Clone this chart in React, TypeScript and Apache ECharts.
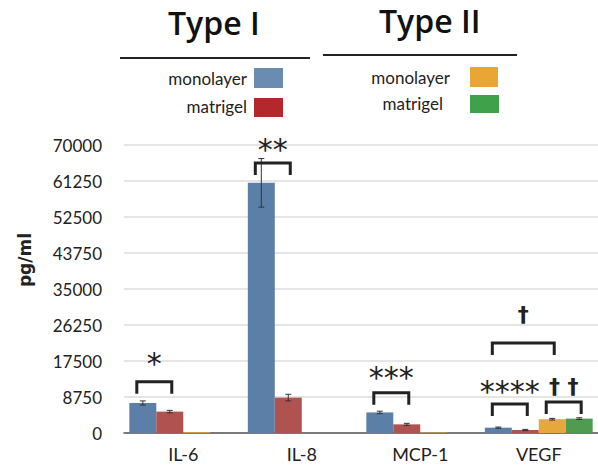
import React, { useEffect, useRef } from "react";
import * as echarts from "echarts";

const categories = ["IL-6", "IL-8", "MCP-1", "VEGF"];
const seriesNames = ["Type I monolayer", "Type I matrigel", "Type II monolayer", "Type II matrigel"];
const type1Monolayer = [7300, 60800, 5000, 1300];
const type1Matrigel = [5200, 8600, 2100, 730];
const type2Monolayer = [180, 0, 120, 3350];
const type2Matrigel = [0, 0, 0, 3500];
const type1MonolayerErr = [500, 5900, 300, 150];
const type1MatrigelErr = [300, 800, 250, 150];
const type2MonolayerErr = [0, 0, 0, 200];
const type2MatrigelErr = [0, 0, 0, 200];

const yMin = 0;
const yMax = 70000;
const yInterval = 8750;

// significance annotations
const annCategory = [0, 1, 2, 3, 3, 3];
const annFromBar = [0, 0, 0, 0, 2, 0];
const annToBar = [1, 1, 1, 1, 3, 2];
const annBracketY = [12470, 65625, 9800, 7050, 7530, 21875];
const annLabelY = [17000, 68800, 13400, 10000, 11200, 28700];
const annLabels = ["*", "**", "***", "****", "† †", "†"];

const barColors = ["#5b7fa7", "#b05250", "#e6a83c", "#4f9b50"];
const legendColors = ["#6a8cb0", "#b3292b", "#e9a632", "#3fa24b"];

const CAT_GAP = 0.09;
const FONT = "Lato, 'Open Sans', sans-serif";

export default function App() {
  const ref = useRef<HTMLDivElement>(null);
  useEffect(() => {
    if (!ref.current) return;
    const chart = echarts.init(ref.current, null, { renderer: "svg" });
    const values = [type1Monolayer, type1Matrigel, type2Monolayer, type2Matrigel];
    const errs = [type1MonolayerErr, type1MatrigelErr, type2MonolayerErr, type2MatrigelErr];

    const barCenter = (api: any, cat: number, bar: number) => {
      const c = api.coord([cat, 0])[0];
      const band = api.size([1, 0])[0];
      const barW = (band * (1 - CAT_GAP)) / 4;
      return { x: c - 2 * barW + (bar + 0.5) * barW, w: barW };
    };

    const errData: any[] = [];
    values.forEach((arr, b) =>
      arr.forEach((v, c) => {
        if (errs[b][c] > 0) errData.push([c, b, v, errs[b][c]]);
      })
    );

    const annData = annLabels.map((l, i) => [
      annCategory[i],
      annFromBar[i],
      annToBar[i],
      annBracketY[i],
      annLabelY[i],
      i,
    ]);

    chart.setOption({
      animation: false,
      grid: { left: 124, right: -2, top: 145, bottom: 33 },
      xAxis: {
        type: "category",
        data: categories,
        axisTick: { show: false },
        axisLine: { lineStyle: { color: "#555", width: 1.5 } },
        axisLabel: { color: "#222", fontSize: 18, fontFamily: FONT, margin: 12 },
      },
      yAxis: {
        type: "value",
        min: yMin,
        max: yMax,
        interval: yInterval,
        axisLabel: {
          color: "#222",
          fontSize: 17,
          fontFamily: FONT,
          margin: 22,
          formatter: (v: number) => String(v),
        },
        splitLine: { lineStyle: { color: "#dcdcdc", width: 1.5 } },
        axisLine: { show: false },
        axisTick: { show: false },
      },
      series: [
        ...values.map((arr, i) => ({
          type: "bar",
          name: seriesNames[i],
          data: arr,
          barGap: "0%",
          barCategoryGap: CAT_GAP * 100 + "%",
          itemStyle: { color: barColors[i] },
        })),
        {
          type: "custom",
          data: errData,
          z: 5,
          renderItem: (params: any, api: any) => {
            const cat = api.value(0);
            const bar = api.value(1);
            const v = api.value(2);
            const e = api.value(3);
            const { x } = barCenter(api, cat, bar);
            const top = api.coord([cat, v + e])[1];
            const bot = api.coord([cat, v - e])[1];
            const cap = 3;
            const st = { stroke: "#333", lineWidth: 1 };
            return {
              type: "group",
              children: [
                { type: "line", shape: { x1: x, y1: top, x2: x, y2: bot }, style: st },
                { type: "line", shape: { x1: x - cap, y1: top, x2: x + cap, y2: top }, style: st },
                { type: "line", shape: { x1: x - cap, y1: bot, x2: x + cap, y2: bot }, style: st },
              ],
            };
          },
        },
        {
          type: "custom",
          data: annData,
          z: 6,
          renderItem: (params: any, api: any) => {
            const cat = api.value(0);
            const from = api.value(1);
            const to = api.value(2);
            const by = api.coord([cat, api.value(3)])[1];
            const ly = api.coord([cat, api.value(4)])[1];
            const idx = api.value(5);
            const x1 = barCenter(api, cat, from).x - 6;
            const x2 = barCenter(api, cat, to).x + 2;
            const leg = 12;
            const label = annLabels[idx];
            const isDagger = label.indexOf("†") >= 0;
            return {
              type: "group",
              children: [
                {
                  type: "polyline",
                  shape: { points: [[x1, by + leg], [x1, by], [x2, by], [x2, by + leg]] },
                  style: { stroke: "#222", lineWidth: 3, fill: "none" },
                },
                {
                  type: "text",
                  x: (x1 + x2) / 2,
                  y: ly,
                  style: {
                    text: label,
                    align: "center",
                    verticalAlign: "middle",
                    fontSize: isDagger ? 22 : 30,
                    fontWeight: isDagger ? "bold" : "normal",
                    fontFamily: "'DejaVu Sans', sans-serif",
                    fill: "#222",
                  },
                },
              ],
            };
          },
        },
      ],
      graphic: [
        { type: "text", x: 168, y: 22, style: { text: "Type I", fontSize: 32, fontWeight: 600, fontFamily: "'Open Sans', Lato, sans-serif", fill: "#111", verticalAlign: "middle" } },
        { type: "text", x: 379, y: 20, style: { text: "Type II", fontSize: 32, fontWeight: 600, fontFamily: "'Open Sans', Lato, sans-serif", fill: "#111", verticalAlign: "middle" } },
        { type: "text", x: 25, y: 260, rotation: Math.PI / 2, style: { text: "pg/ml", fontSize: 17, fontWeight: "bold", fontFamily: "'DejaVu Sans', sans-serif", fill: "#222", align: "center", verticalAlign: "middle" } },
        { type: "line", shape: { x1: 120, y1: 58, x2: 310, y2: 58 }, style: { stroke: "#222", lineWidth: 2 } },
        { type: "line", shape: { x1: 323, y1: 55, x2: 517, y2: 55 }, style: { stroke: "#222", lineWidth: 2 } },
        { type: "text", x: 247, y: 78, style: { text: "monolayer", align: "right", verticalAlign: "middle", fontSize: 17, fontFamily: FONT, fill: "#222" } },
        { type: "rect", shape: { x: 254, y: 68, width: 29, height: 20 }, style: { fill: legendColors[0] } },
        { type: "text", x: 247, y: 106, style: { text: "matrigel", align: "right", verticalAlign: "middle", fontSize: 17, fontFamily: FONT, fill: "#222" } },
        { type: "rect", shape: { x: 254, y: 98, width: 29, height: 19 }, style: { fill: legendColors[1] } },
        { type: "text", x: 450, y: 77, style: { text: "monolayer", align: "right", verticalAlign: "middle", fontSize: 17, fontFamily: FONT, fill: "#222" } },
        { type: "rect", shape: { x: 470, y: 67, width: 28, height: 20 }, style: { fill: legendColors[2] } },
        { type: "text", x: 443, y: 103, style: { text: "matrigel", align: "right", verticalAlign: "middle", fontSize: 17, fontFamily: FONT, fill: "#222" } },
        { type: "rect", shape: { x: 470, y: 95, width: 29, height: 18 }, style: { fill: legendColors[3] } },
      ],
    });
    return () => chart.dispose();
  }, []);
  return <div ref={ref} style={{ width: 598, height: 466, position: "absolute", left: 0, top: 0, background: "#fff" }} />;
}
